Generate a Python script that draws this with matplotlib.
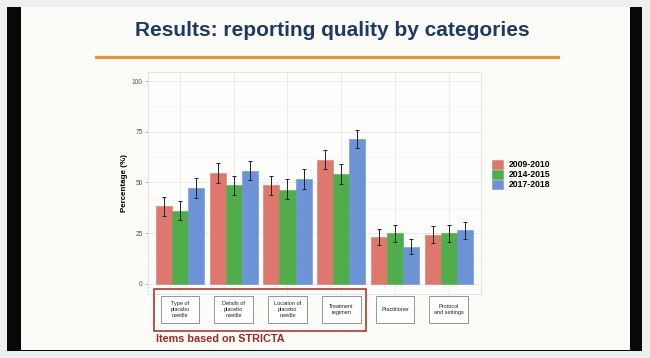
import matplotlib.pyplot as plt
import matplotlib.transforms as mtransforms
from matplotlib.patches import Rectangle
import numpy as np

plt.rcParams['font.family'] = ['Liberation Sans', 'DejaVu Sans']

# data
categories = ["Type of\nplacebo\nneedle", "Details of\nplacebo\nneedle",
              "Location of\nplacebo\nneedle", "Treatment\nregimen",
              "Practitioner", "Protocol\nand settings"]
periods = ["2009-2010", "2014-2015", "2017-2018"]
colors = ["#df786c", "#4fad4a", "#6b93d5"]

values = [
    [38.4, 54.8, 48.6, 61.2, 23.0, 24.3],   # 2009-2010
    [36.1, 48.6, 46.3, 54.0, 25.0, 25.0],   # 2014-2015
    [47.1, 55.8, 51.6, 71.4, 18.4, 26.4],   # 2017-2018
]
lower = [
    [33.6, 49.9, 43.7, 56.8, 19.0, 20.2],
    [31.5, 44.0, 41.9, 49.3, 20.8, 20.8],
    [42.5, 51.1, 46.9, 67.1, 14.6, 22.2],
]
upper = [
    [43.0, 59.8, 53.4, 66.2, 27.2, 28.6],
    [40.7, 53.4, 51.6, 59.0, 29.2, 29.2],
    [52.0, 60.7, 56.5, 75.9, 22.2, 30.7],
]
yticks = [0, 25, 50, 75, 100]

W, H = 650, 358


def fx(px):
    return px / W


def fy(py):
    return 1 - py / H


fig = plt.figure(figsize=(6.5, 3.58), dpi=100, facecolor="#eeeff0")

# slide frame (kept behind the axes)
fig.add_artist(Rectangle((fx(7), fy(351)), fx(635), 344 / H, facecolor="#070808",
                         edgecolor="none", transform=fig.transFigure, zorder=-10))
fig.add_artist(Rectangle((fx(21), fy(350)), fx(609), 343 / H, facecolor="#fbfbf7",
                         edgecolor="none", transform=fig.transFigure, zorder=-9))

fig.text(fx(332), fy(31), "Results: reporting quality by categories", ha="center",
         va="center", fontsize=15, fontweight="bold", color="#1c3a64")
fig.add_artist(plt.Line2D([fx(96), fx(558)], [fy(57), fy(57)], color="#e8943a", lw=2.3,
                          transform=fig.transFigure))

ax = fig.add_axes([fx(147.7), fy(294), fx(481 - 147.7), (294 - 71.7) / H])
ax.set_facecolor("#fdfdfb")
ax.set_zorder(2)

x = np.arange(1, len(categories) + 1)
bw = 0.3
for i, (p, c) in enumerate(zip(periods, colors)):
    xs = x + (i - 1) * bw
    v = np.array(values[i])
    err = [v - np.array(lower[i]), np.array(upper[i]) - v]
    ax.bar(xs, v, width=bw, color=c, edgecolor=c, linewidth=0.4, label=p, zorder=2)
    ax.errorbar(xs, v, yerr=err, fmt="none", ecolor="#222222", elinewidth=0.7,
                capsize=1.6, capthick=0.7, zorder=3)

ax.set_xlim(0.4, 6.6)
ax.set_ylim(-5, 104.6)
ax.set_yticks(yticks)
ax.set_yticks([12.5, 37.5, 62.5, 87.5], minor=True)
ax.set_xticks(x)
ax.set_xticklabels([])
ax.tick_params(axis="y", labelsize=4.8, colors="#555555", length=1.5, width=0.4, pad=2)
ax.tick_params(axis="y", which="minor", length=0)
ax.tick_params(axis="x", length=0)
ax.grid(True, which="major", color="#e8e8e6", lw=0.6, zorder=0)
ax.grid(True, which="minor", axis="y", color="#f1f1ef", lw=0.4, zorder=0)
for s in ax.spines.values():
    s.set_color("#e0e0de")
    s.set_linewidth(0.6)
ax.set_ylabel("Percentage (%)", fontsize=5.8, fontweight="bold", labelpad=3)

ax.legend(loc="upper left", bbox_to_anchor=(fx(492), fy(160)),
          bbox_transform=fig.transFigure, frameon=False,
          handlelength=1.3, handleheight=1.25, handletextpad=0.6, labelspacing=0.05,
          borderpad=0, borderaxespad=0, prop={"weight": "bold", "size": 6.2})

# boxed category labels under the panel
trans = mtransforms.blended_transform_factory(ax.transData, fig.transFigure)
for xi, lab in zip(x, categories):
    ax.add_patch(Rectangle((xi - 0.34, fy(323.5)), 0.72, 27.5 / H, transform=trans,
                           facecolor="#aaaaaa", edgecolor="none", clip_on=False,
                           zorder=4))
    ax.add_patch(Rectangle((xi - 0.36, fy(323)), 0.72, 27 / H, transform=trans,
                           facecolor="white", edgecolor="#8a8a8a", lw=0.6,
                           clip_on=False, zorder=5))
    ax.text(xi, fy(309.5), lab, transform=trans, ha="center", va="center",
            fontsize=4.0, linespacing=1.25, color="#222222", zorder=6)

ax.add_patch(Rectangle((0.52, fy(331)), 4.46 - 0.52, 42 / H, transform=trans,
                       facecolor="none", edgecolor="#a8281f", lw=1.1, clip_on=False,
                       zorder=6))
fig.text(fx(155.5), fy(339.5), "Items based on STRICTA", ha="left", va="center",
         fontsize=7.8, fontweight="bold", color="#9c2a20")

fig.savefig("out.png", dpi=100, facecolor=fig.get_facecolor())
